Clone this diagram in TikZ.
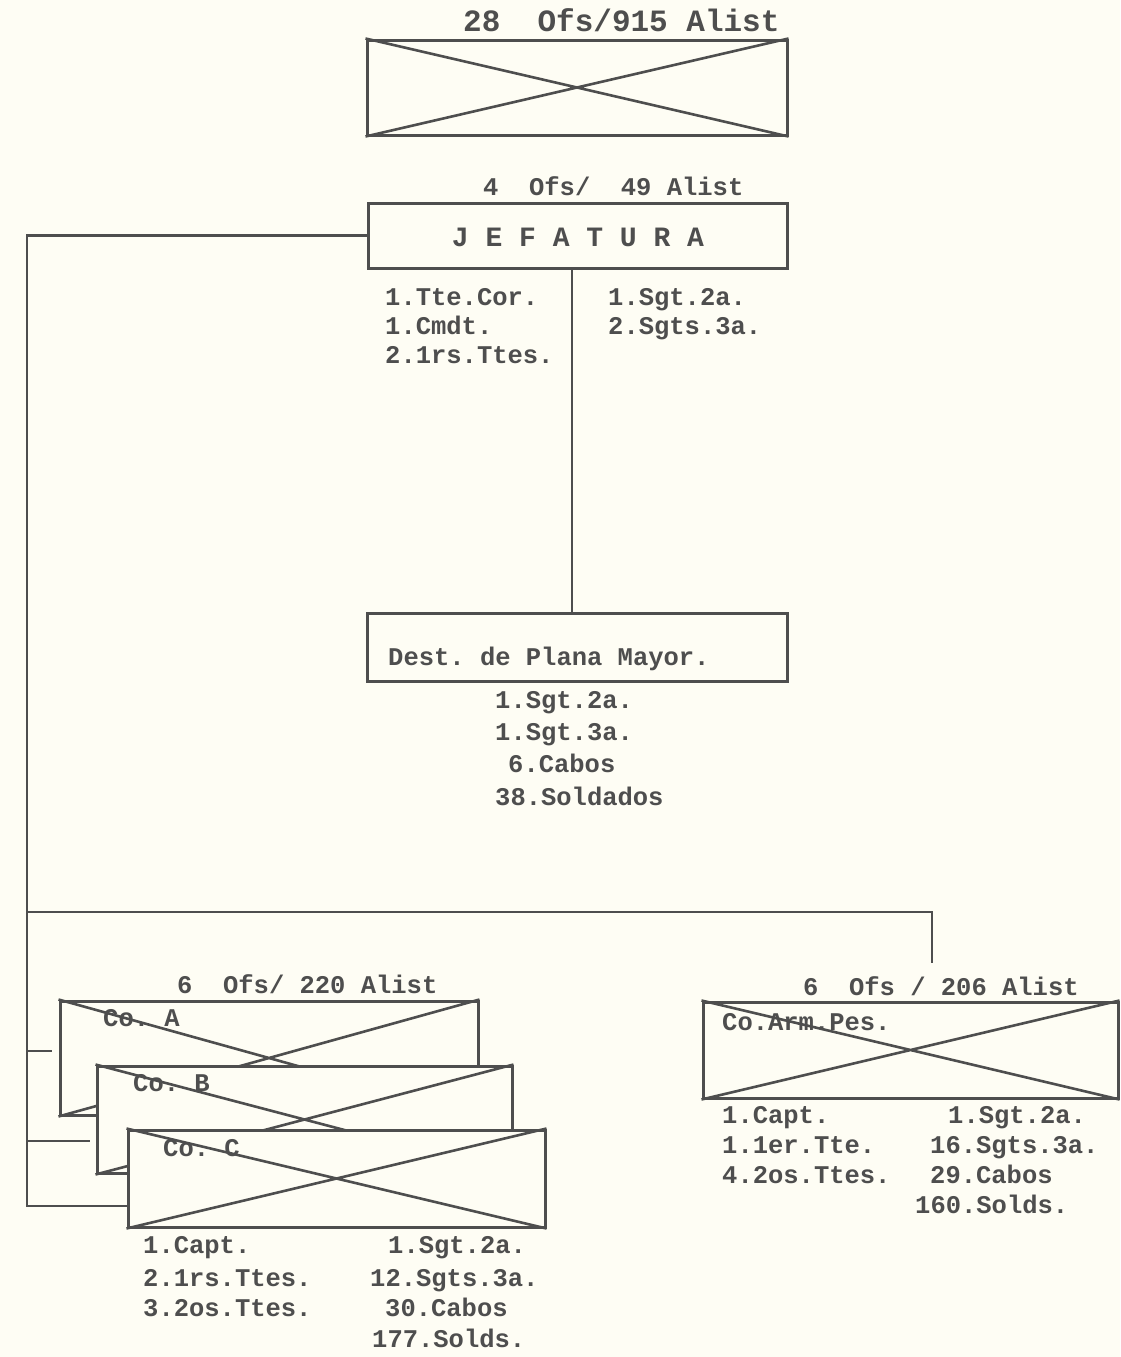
\documentclass[tikz,border=0pt]{standalone}
\usepackage{fontspec}
\setmonofont{Liberation Mono}
\usepackage{tikz}
\usetikzlibrary{calc}
\definecolor{paper}{RGB}{254,253,244}
\definecolor{ink}{RGB}{78,78,78}
\newcommand{\tw}{\ttfamily\bfseries\fontsize{25.5}{30}\selectfont}
\newcommand{\twbig}{\ttfamily\bfseries\fontsize{31}{36}\selectfont}
\newcommand{\crossout}[1]{\draw[wire] (#1.north west) -- (#1.south east) (#1.north east) -- (#1.south west);}

\begin{document}
\begin{tikzpicture}[x=1pt, y=-1pt,
  wire/.style={draw=ink, line width=2.6pt},
  xbox/.style={draw=ink, fill=paper, line width=3pt, inner sep=0pt},
  tx/.style={anchor=base west, inner sep=0pt, text=ink, font=\tw}]
  \fill[paper] (0,0) rectangle (1120,1357);
  \useasboundingbox (0,0) rectangle (1120,1357);

  % upper level
  \node[tx, font=\twbig] (ttop) at (463,31) {28\ \ Ofs/915 Alist};
  \node[xbox, minimum width=420pt, minimum height=95pt] (brig) at (577,87.5) {};
  \crossout{brig}

  % jefatura
  \node[tx] (tjef) at (483,195) {4\ \ Ofs/\ \ 49 Alist};
  \node[xbox, minimum width=419pt, minimum height=65pt] (jef) at (577.5,235.5) {};
  \node[tx, anchor=base, font=\ttfamily\bfseries\fontsize{28}{32}\selectfont] (jeflbl) at (578,246) {J E F A T U R A};
  \node[tx] (jl1) at (385,305) {1.Tte.Cor.};
  \node[tx] (jl2) at (385,334) {1.Cmdt.};
  \node[tx] (jl3) at (385,363) {2.1rs.Ttes.};
  \node[tx] (jr1) at (608,305) {1.Sgt.2a.};
  \node[tx] (jr2) at (608,334) {2.Sgts.3a.};

  % plana mayor
  \node[xbox, minimum width=420pt, minimum height=68pt] (dest) at (577,647) {};
  \node[tx] (destlbl) at (388,665) {Dest. de Plana Mayor.};
  \node[tx] (dl1) at (495,708) {1.Sgt.2a.};
  \node[tx] (dl2) at (495,740) {1.Sgt.3a.};
  \node[tx] (dl3) at (508,772) {6.Cabos};
  \node[tx] (dl4) at (495,805) {38.Soldados};
  \coordinate (stem) at (572,268);
  \draw[wire] (stem) -- (stem |- dest.north);

  % connectors
  \coordinate (spBot) at (27,1206);
  \coordinate (busL) at (27,912);
  \coordinate (busR) at (932,963);
  \coordinate (tkA) at (52,1051);
  \coordinate (tkB) at (90,1141);

  % rifle companies
  \node[tx] (tcia) at (177,993) {6\ \ Ofs/ 220 Alist};
  \node[xbox, minimum width=418pt, minimum height=114pt] (coA) at (269,1058) {};
  \crossout{coA}
  \node[tx] (coAlbl) at (103,1026) {Co. A};
  \node[xbox, minimum width=415pt, minimum height=107pt] (coB) at (304.5,1119.5) {};
  \crossout{coB}
  \node[tx] (coBlbl) at (133,1091) {Co. B};
  \node[xbox, minimum width=417pt, minimum height=97pt] (coC) at (336.5,1178.5) {};
  \crossout{coC}
  \node[tx] (coClbl) at (163,1156) {Co. C};
  \node[tx] (cl1) at (143,1253) {1.Capt.};
  \node[tx] (cl2) at (143,1286) {2.1rs.Ttes.};
  \node[tx] (cl3) at (143,1316) {3.2os.Ttes.};
  \node[tx] (cr1) at (388,1253) {1.Sgt.2a.};
  \node[tx] (cr2) at (370,1286) {12.Sgts.3a.};
  \node[tx] (cr3) at (385,1316) {30.Cabos};
  \node[tx] (cr4) at (372,1347) {177.Solds.};

  % weapons company
  \node[tx] (tarm) at (803,995) {6\ \ Ofs / 206 Alist};
  \node[xbox, minimum width=415pt, minimum height=96pt] (arm) at (910.5,1050) {};
  \crossout{arm}
  \node[tx] (armlbl) at (722,1030) {Co.Arm.Pes.};
  \node[tx] (al1) at (722,1123) {1.Capt.};
  \node[tx] (al2) at (722,1153) {1.1er.Tte.};
  \node[tx] (al3) at (722,1183) {4.2os.Ttes.};
  \node[tx] (ar1) at (948,1123) {1.Sgt.2a.};
  \node[tx] (ar2) at (930,1153) {16.Sgts.3a.};
  \node[tx] (ar3) at (930,1183) {29.Cabos};
  \node[tx] (ar4) at (915,1213) {160.Solds.};

  \draw[wire] (jef.west) -| (spBot) -- (spBot -| coC.west);
  \draw[wire] (busL) -| (busR);
  \draw[wire] (tkA -| spBot) -- (tkA);
  \draw[wire] (tkB -| spBot) -- (tkB);
\end{tikzpicture}
\end{document}
